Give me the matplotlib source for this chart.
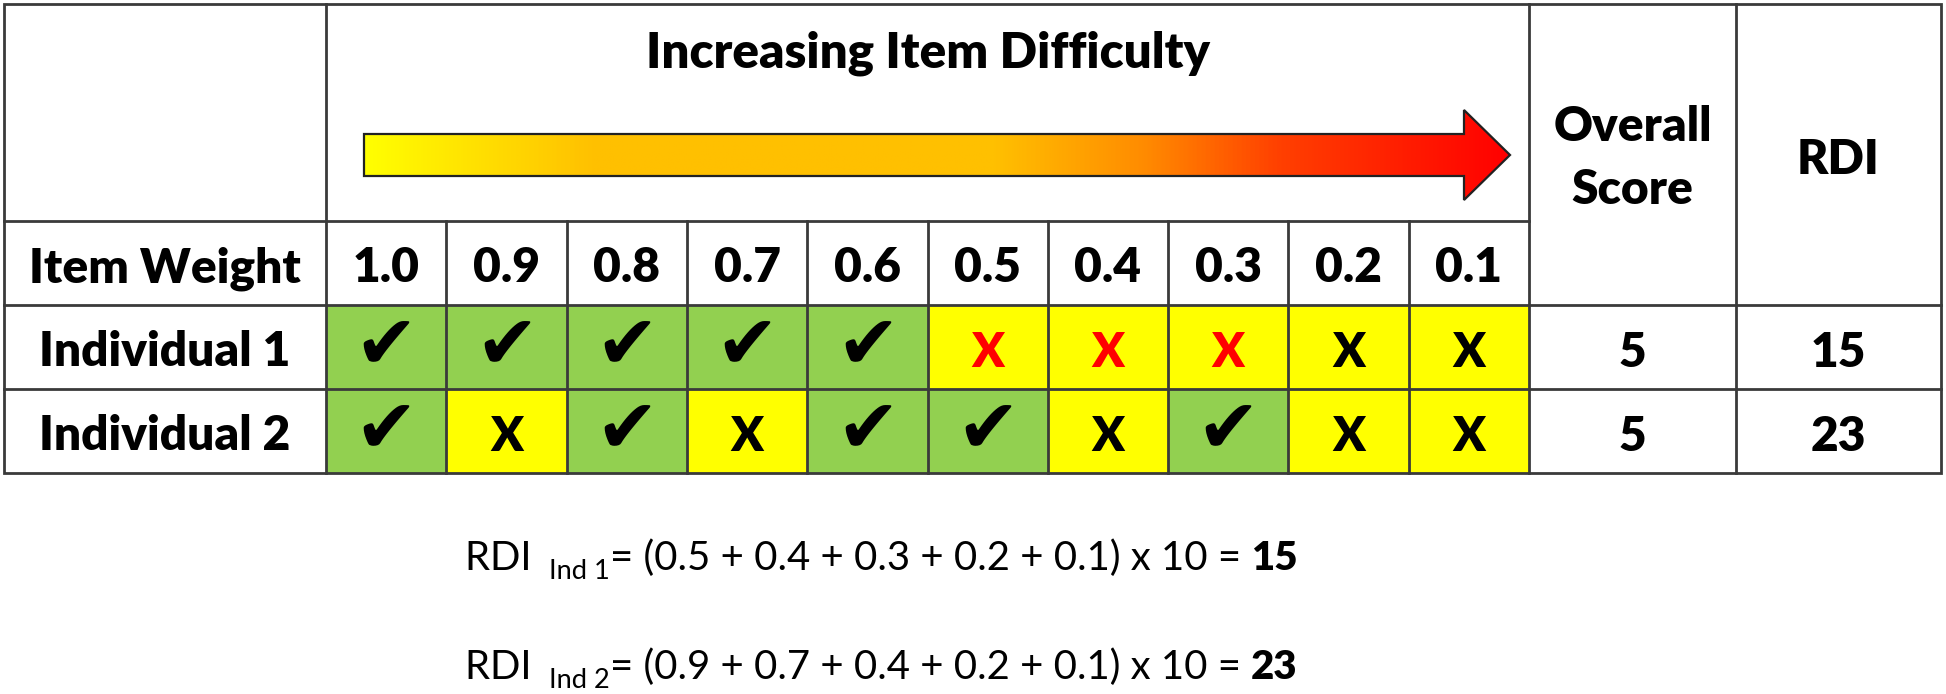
import matplotlib
matplotlib.use("Agg")
import matplotlib.pyplot as plt
import numpy as np
from matplotlib.colors import LinearSegmentedColormap
from matplotlib.patches import Rectangle, Polygon

# ---------------- data ----------------
title = "Increasing Item Difficulty"
row_header = "Item Weight"
weights = ["1.0", "0.9", "0.8", "0.7", "0.6", "0.5", "0.4", "0.3", "0.2", "0.1"]
individuals = ["Individual 1", "Individual 2"]
# 1 = correct (check mark), 0 = incorrect (X)
responses_ind1 = [1, 1, 1, 1, 1, 0, 0, 0, 0, 0]
responses_ind2 = [1, 0, 1, 0, 1, 1, 0, 1, 0, 0]
# X marks drawn in red
red_x_ind1 = [0, 0, 0, 0, 0, 1, 1, 1, 0, 0]
red_x_ind2 = [0, 0, 0, 0, 0, 0, 0, 0, 0, 0]
overall_scores = ["5", "5"]
rdi_values = ["15", "23"]
formula_subs = ["Ind 1", "Ind 2"]
formula_terms_ind1 = ["0.5", "0.4", "0.3", "0.2", "0.1"]
formula_terms_ind2 = ["0.9", "0.7", "0.4", "0.2", "0.1"]
formula_multiplier = "10"

responses = [responses_ind1, responses_ind2]
red_x = [red_x_ind1, red_x_ind2]
formula_terms = [formula_terms_ind1, formula_terms_ind2]

# ---------------- style / layout ----------------
W, H = 1946, 694
GREEN = "#92D050"
YELLOW = "#FFFF00"
RED = "#FF0000"
LINE = "#3a3a3a"
TXT = "#000000"
FONT = ["Lato", "DejaVu Sans"]
BOLDW = "heavy"

fig = plt.figure(figsize=(W / 100, H / 100), dpi=100)
ax = fig.add_axes([0, 0, 1, 1])
ax.set_xlim(0, W)
ax.set_ylim(H, 0)
ax.axis("off")
fig.canvas.draw()
renderer = fig.canvas.get_renderer()


def text_w(s, size, **kw):
    t = ax.text(0, 0, s, fontsize=size, **kw)
    w = t.get_window_extent(renderer).width
    t.remove()
    return w


def fit(s, target, **kw):
    return 20 * target / text_w(s, 20, **kw)


x_left, x_lab, x_data_end, x_score_end, x_right = 4, 326, 1529, 1736, 1941
col_edges = np.linspace(x_lab, x_data_end, len(weights) + 1)
row_edges = [4, 221, 305, 389, 473]

# cell fills
for r, resp in enumerate(responses):
    for c, v in enumerate(resp):
        ax.add_patch(Rectangle((col_edges[c], row_edges[r + 2]),
                               col_edges[c + 1] - col_edges[c],
                               row_edges[r + 3] - row_edges[r + 2],
                               facecolor=GREEN if v else YELLOW,
                               edgecolor="none", zorder=1))

# grid lines
lw = 2.0
ax.add_patch(Rectangle((x_left, row_edges[0]), x_right - x_left,
                       row_edges[-1] - row_edges[0], fill=False,
                       edgecolor=LINE, lw=lw, zorder=3))
for xv in [x_lab, x_data_end, x_score_end]:
    ax.plot([xv, xv], [row_edges[0], row_edges[-1]], color=LINE, lw=lw, zorder=3)
ax.plot([x_left, x_data_end], [row_edges[1]] * 2, color=LINE, lw=lw, zorder=3)
for yv in row_edges[2:4]:
    ax.plot([x_left, x_right], [yv, yv], color=LINE, lw=lw, zorder=3)
for xv in col_edges[1:-1]:
    ax.plot([xv, xv], [row_edges[1], row_edges[-1]], color=LINE, lw=lw, zorder=3)

# gradient arrow
ax_l, ax_r, head_b = 364, 1510, 1464
sh_t, sh_b, hd_t, hd_b = 134, 176, 110, 200
yc = (sh_t + sh_b) / 2
cmap = LinearSegmentedColormap.from_list(
    "diff", [(0.0, "#FFFF00"), (0.2, "#FFC000"), (0.55, "#FFC000"),
             (0.68, "#FF8C00"), (0.8, "#FF4000"), (1.0, "#FF0000")])
grad = np.linspace(0, 1, 512).reshape(1, -1)
im = ax.imshow(grad, cmap=cmap, aspect="auto",
               extent=[ax_l, ax_r, hd_b, hd_t], zorder=2, interpolation="bilinear")
arrow = Polygon([(ax_l, sh_t), (head_b, sh_t), (head_b, hd_t), (ax_r, yc),
                 (head_b, hd_b), (head_b, sh_b), (ax_l, sh_b)], closed=True,
                facecolor="none", edgecolor="#222222", lw=1.6, zorder=4,
                joinstyle="miter")
ax.add_patch(arrow)
im.set_clip_path(arrow)
ax.set_xlim(0, W)
ax.set_ylim(H, 0)

# ---------------- texts ----------------
bold = dict(fontweight=BOLDW, family=FONT, color=TXT)
tsize = fit(row_header, 272, **bold)
cap = 0.72 * tsize * 100 / 72


def centered(s, xc, yc_, size=tsize, color=TXT, **kw):
    ax.text(xc, yc_ + cap * size / tsize / 2, s, fontsize=size, ha="center",
            va="baseline", fontweight=BOLDW, family=FONT, color=color,
            zorder=5, **kw)


title_size = fit(title, 566, **bold)
centered(title, (x_lab + x_data_end) / 2, 50, size=title_size)

lab_xc = (x_left + x_lab) / 2
centered(row_header, lab_xc, (row_edges[1] + row_edges[2]) / 2 + 2)
for i, name in enumerate(individuals):
    centered(name, lab_xc, (row_edges[i + 2] + row_edges[i + 3]) / 2 + 2)

col_c = (col_edges[:-1] + col_edges[1:]) / 2
for c, wv in enumerate(weights):
    centered(wv, col_c[c], (row_edges[1] + row_edges[2]) / 2 + 2)

check_size = 20 * 63 / text_w("\u2714", 20, family=["DejaVu Sans"])
for r, resp in enumerate(responses):
    ymid = (row_edges[r + 2] + row_edges[r + 3]) / 2
    for c, v in enumerate(resp):
        if v:
            ax.text(col_c[c], ymid + 1, "\u2714", fontsize=check_size,
                    ha="center", va="center", family=["DejaVu Sans"],
                    color=TXT, zorder=5)
        else:
            centered("X", col_c[c], ymid + 3, size=tsize * 1.0,
                     color=RED if red_x[r][c] else TXT)

score_xc = (x_data_end + x_score_end) / 2
rdi_xc = (x_score_end + x_right) / 2
hdr_mid = (row_edges[0] + row_edges[2]) / 2
centered("Overall", score_xc, hdr_mid - 31)
centered("Score", score_xc, hdr_mid + 32)
centered("RDI", rdi_xc, hdr_mid + 2)
for i in range(2):
    ymid = (row_edges[i + 2] + row_edges[i + 3]) / 2 + 3
    centered(overall_scores[i], score_xc, ymid)
    centered(rdi_values[i], rdi_xc, ymid)

# formulas
reg = dict(family=FONT, color=TXT)
SUB = 0.68
line_parts = lambda i: ("RDI ", " " + formula_subs[i],
                        "= (" + " + ".join(formula_terms[i]) + ") x " + formula_multiplier + " = ",
                        rdi_values[i])


def parts_width(i, s):
    a, b, c, d = line_parts(i)
    return (text_w(a, s, **reg) + text_w(b, s * SUB, **reg) +
            text_w(c, s, **reg) + text_w(d, s, fontweight=BOLDW, **reg))


fsize = 20 * 832 / parts_width(0, 20)
baselines = [570, 679]
x0 = 465
for i in range(2):
    a, b, c, d = line_parts(i)
    x = x0
    yb = baselines[i]
    for s, size, yy, extra in [(a, fsize, yb, {}), (b, fsize * SUB, yb + 9, {}),
                               (c, fsize, yb, {}), (d, fsize, yb, {"fontweight": BOLDW})]:
        t = ax.text(x, yy, s, fontsize=size, ha="left", va="baseline",
                    zorder=5, **reg, **extra)
        x += t.get_window_extent(renderer).width

fig.savefig("out.png", dpi=100)
